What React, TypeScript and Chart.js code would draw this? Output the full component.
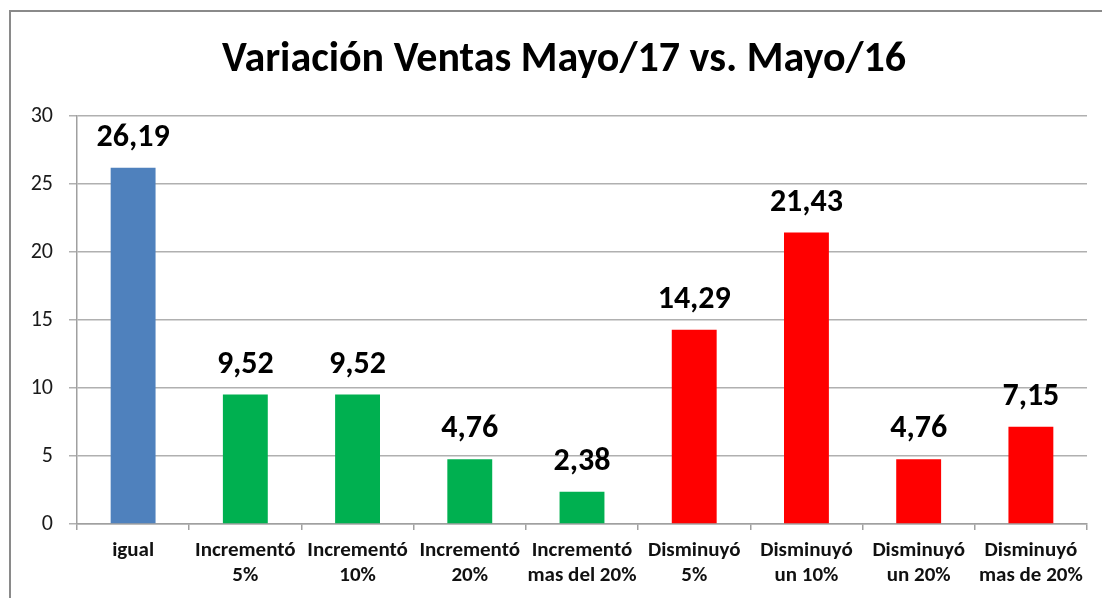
import React, { useEffect, useRef } from "react";
import { Chart, registerables } from "chart.js";

Chart.register(...registerables);

const TITLE = "Variación Ventas Mayo/17 vs. Mayo/16";
const CATEGORIES: string[][] = [
  ["igual"],
  ["Incrementó", "5%"],
  ["Incrementó", "10%"],
  ["Incrementó", "20%"],
  ["Incrementó", "mas del 20%"],
  ["Disminuyó", "5%"],
  ["Disminuyó", "un 10%"],
  ["Disminuyó", "un 20%"],
  ["Disminuyó", "mas de 20%"],
];
const VALUES: number[] = [26.19, 9.52, 9.52, 4.76, 2.38, 14.29, 21.43, 4.76, 7.15];
const BAR_COLORS: string[] = [
  "#4F81BD",
  "#00B050",
  "#00B050",
  "#00B050",
  "#00B050",
  "#FF0000",
  "#FF0000",
  "#FF0000",
  "#FF0000",
];
const Y_MIN = 0;
const Y_MAX = 30;
const Y_STEP = 5;

const FONT = "Carlito, Calibri, Lato, 'Noto Sans', sans-serif";

const decorPlugin = {
  id: "decor",
  beforeDraw(chart: any) {
    const { ctx, width, height } = chart;
    ctx.save();
    ctx.fillStyle = "#ffffff";
    ctx.fillRect(0, 0, width, height);
    ctx.strokeStyle = "#8a8a8a";
    ctx.lineWidth = 2;
    ctx.beginPath();
    ctx.moveTo(10, height + 5);
    ctx.lineTo(10, 11);
    ctx.lineTo(width + 5, 11);
    ctx.stroke();
    ctx.fillStyle = "#000000";
    ctx.font = `bold 42px ${FONT}`;
    ctx.textAlign = "center";
    ctx.textBaseline = "alphabetic";
    ctx.fillText(TITLE, 564, 71);
    ctx.restore();
  },
  afterDatasetsDraw(chart: any) {
    const { ctx } = chart;
    const meta = chart.getDatasetMeta(0);
    ctx.save();
    ctx.fillStyle = "#000000";
    ctx.font = `bold 32px ${FONT}`;
    ctx.textAlign = "center";
    ctx.textBaseline = "middle";
    meta.data.forEach((el: any, i: number) => {
      const v = chart.data.datasets[0].data[i] as number;
      ctx.fillText(v.toFixed(2).replace(".", ","), el.x, el.y - 30);
    });
    ctx.restore();
  },
};

export default function App() {
  const ref = useRef<HTMLCanvasElement | null>(null);
  useEffect(() => {
    if (!ref.current) return;
    const chart = new Chart(ref.current, {
      type: "bar",
      data: {
        labels: CATEGORIES,
        datasets: [
          {
            data: VALUES,
            backgroundColor: BAR_COLORS,
            borderWidth: 0,
            categoryPercentage: 1,
            barPercentage: 0.4,
          },
        ],
      },
      plugins: [decorPlugin],
      options: {
        responsive: false,
        animation: false,
        devicePixelRatio: 1,
        layout: { padding: { left: 0, right: 15, top: 116, bottom: 0 } },
        plugins: {
          legend: { display: false },
          title: { display: false },
          tooltip: { enabled: false },
        },
        scales: {
          y: {
            min: Y_MIN,
            max: Y_MAX,
            ticks: {
              stepSize: Y_STEP,
              font: { family: FONT, size: 22 },
              color: "#1a1a1a",
              padding: 16,
            },
            grid: {
              color: "#b0b0b0",
              lineWidth: 1.5,
              tickLength: 8,
            },
            border: { color: "#a0a0a0", width: 1.5 },
            afterFit(scale: any) {
              scale.width = 77;
            },
          },
          x: {
            ticks: {
              font: { family: FONT, size: 21, weight: "bold", lineHeight: 1.19 },
              color: "#111111",
              padding: 8,
              maxRotation: 0,
              autoSkip: false,
            },
            grid: {
              offset: true,
              drawOnChartArea: false,
              color: "#a0a0a0",
              lineWidth: 1.5,
              tickLength: 6,
            },
            border: { color: "#a0a0a0", width: 1.5 },
            afterFit(scale: any) {
              scale.height = 74;
            },
          },
        },
      },
    });
    return () => chart.destroy();
  }, []);
  return (
    <div style={{ position: "absolute", left: 0, top: 0, width: 1102, height: 598 }}>
      <canvas ref={ref} width={1102} height={598} />
    </div>
  );
}
